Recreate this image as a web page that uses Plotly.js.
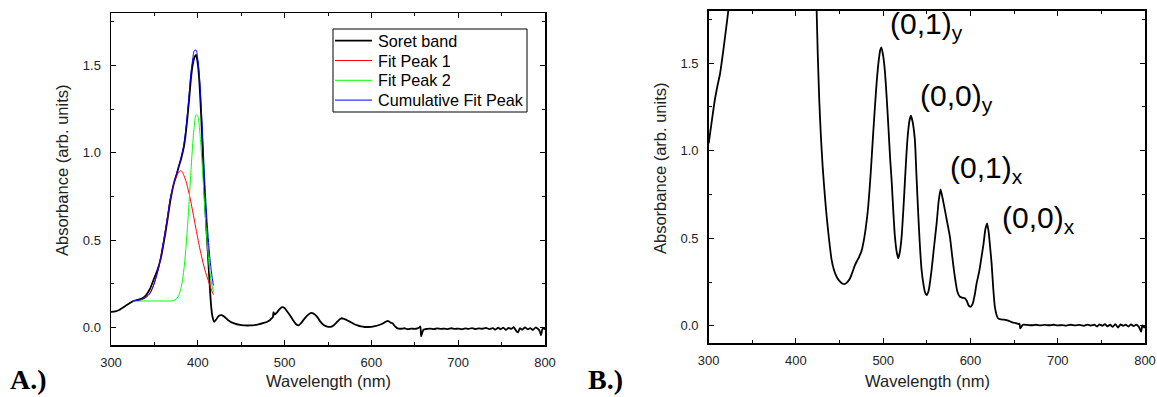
<!DOCTYPE html>
<html>
<head>
<meta charset="utf-8">
<script src="https://cdn.plot.ly/plotly-3.0.1.min.js"></script>
<style>
  html, body { margin: 0; padding: 0; background: #fff; }
  #chart { width: 1157px; height: 397px; }
</style>
</head>
<body>
<div id="chart"></div>
<script>
// ---------- Panel A: Soret band spectrum ----------
const soretWl = [300,305,310,315,320,325,330,335,340,345,350,353,355,358,360,363,365,368,370,373,375,378,380,382,384,386,388,390,392,394,396,398,400,402,404,406,408,410,412,414,415.5,417,419,421,424,427.5,431,435,441,450,460,470,476,480,483,485,486.5,487.2,488.5,491,494,497,500,503,506.5,510,513,516,519,522,526,530,532,535,538,541,545,549,553,557,561,564,566,569,572,576,580,584,588,592,596,600,604,608,612,615,618,620,622,624,626,628,630,634,638,642,646,650,653,655,656.5,657.2,658,660,664,668,672,676,680,684,688,692,696,700,704,708,712,716,720,724,728,732,736,740,743,746,749,752,755,758,761,764,767,769,771,774,777,780,783,786,789,792,794,795.5,797,799,800];
const soretAbs = [0.089,0.092,0.102,0.118,0.135,0.150,0.158,0.165,0.183,0.222,0.285,0.322,0.352,0.41,0.465,0.55,0.615,0.715,0.77,0.835,0.865,0.92,0.952,0.99,1.035,1.105,1.2,1.305,1.42,1.5,1.545,1.56,1.51,1.39,1.2,0.96,0.74,0.56,0.39,0.22,0.115,0.06,0.033,0.045,0.066,0.071,0.06,0.042,0.025,0.014,0.012,0.018,0.026,0.033,0.042,0.052,0.06,0.088,0.074,0.085,0.104,0.117,0.112,0.092,0.068,0.04,0.02,0.012,0.025,0.045,0.068,0.082,0.083,0.074,0.058,0.035,0.014,0.005,0.004,0.015,0.035,0.049,0.053,0.048,0.042,0.031,0.02,0.012,0.006,0.003,0.003,0.004,0.008,0.013,0.02,0.029,0.037,0.036,0.028,0.026,0.014,0.003,-0.005,-0.007,-0.004,-0.01,-0.006,-0.008,-0.005,0.0,0.006,-0.05,-0.04,-0.012,-0.008,-0.006,-0.009,-0.005,-0.008,-0.006,-0.009,-0.004,-0.008,-0.006,-0.01,-0.005,-0.008,-0.003,-0.009,-0.005,-0.007,-0.002,-0.009,-0.004,-0.012,-0.001,-0.01,0.0,-0.014,-0.002,-0.008,0.002,-0.02,-0.028,-0.004,-0.012,0.001,-0.01,-0.003,-0.014,0.0,-0.008,-0.022,-0.044,-0.01,-0.004,-0.012];

const fitWl = [325,330,335,340,345,350,355,360,365,368,370,372,374,376,378,380,382,384,386,388,390,392,394,396,398,400,402,404,406,408,410,412,414,416,418];
const fitPeak1 = [0.152,0.155,0.16,0.172,0.197,0.255,0.345,0.48,0.63,0.73,0.775,0.815,0.848,0.872,0.889,0.897,0.892,0.87,0.843,0.807,0.766,0.719,0.668,0.615,0.562,0.51,0.46,0.414,0.371,0.333,0.299,0.27,0.24,0.212,0.188];
const fitPeak2 = [0.152,0.152,0.152,0.152,0.152,0.152,0.152,0.152,0.152,0.152,0.152,0.155,0.159,0.168,0.184,0.213,0.26,0.332,0.435,0.567,0.722,0.887,1.039,1.156,1.216,1.209,1.136,1.011,0.854,0.69,0.538,0.411,0.316,0.249,0.205];
const fitCumulative = [0.152,0.155,0.16,0.172,0.197,0.255,0.345,0.48,0.63,0.73,0.775,0.818,0.855,0.888,0.921,0.958,1.0,1.05,1.126,1.222,1.336,1.454,1.53,1.585,1.588,1.535,1.43,1.26,1.05,0.84,0.66,0.515,0.395,0.305,0.241];

const seriesNames = ['Soret band', 'Fit Peak 1', 'Fit Peak 2', 'Cumulative Fit Peak'];

// ---------- Panel B: Q-band region ----------
const qWl = [300,303,307,310,313,316.8,320,322.5,325,423,423.7,425,426.7,428.5,430.6,433,435.2,438,440.9,443.5,446.6,450,453,455.4,458,461.9,465,467.5,469.5,472,475,477.1,480,482.8,485.5,488.5,490.5,492.4,494.5,496.6,498,500,502,503.9,506,508,509.6,511.5,513.4,515.5,517.2,519,521.1,523.5,526,528,530,531.7,533.5,536.3,538,540.1,542,544,546,548,549.7,552,555.4,558,561.2,563.5,565.7,568,570.7,573,576.4,579,582.1,585,587.9,591,593.6,596,598,600.1,602.5,605,607,610,612.7,615,617,619.1,621,622.5,624.2,626,627.9,630,631.7,635,638,641.3,645,648,652.8,655,656.2,657,658,660,665,670,675,680,685,690,695,700,705,710,715,720,725,730,734,738,742,745,748,751,754,757,760,763,766,769,772,775,778,781,784,787,790,793,795.5,797,799,800];
const qAbs = [1.042,1.15,1.29,1.37,1.44,1.575,1.7,1.8,1.9,1.9,1.8,1.55,1.29,1.09,0.909,0.75,0.623,0.49,0.375,0.32,0.28,0.255,0.242,0.238,0.245,0.27,0.31,0.345,0.366,0.39,0.425,0.47,0.56,0.68,0.86,1.10,1.25,1.385,1.5,1.575,1.59,1.54,1.45,1.31,1.13,0.95,0.833,0.66,0.509,0.42,0.385,0.42,0.509,0.7,0.928,1.08,1.17,1.2,1.17,1.061,0.87,0.642,0.46,0.318,0.24,0.19,0.175,0.2,0.318,0.44,0.585,0.71,0.779,0.73,0.661,0.6,0.509,0.4,0.28,0.195,0.166,0.16,0.157,0.14,0.115,0.109,0.125,0.18,0.242,0.31,0.394,0.47,0.55,0.585,0.53,0.45,0.357,0.22,0.109,0.06,0.042,0.036,0.035,0.033,0.026,0.02,0.014,0.01,0.012,-0.015,-0.008,0.006,0.005,0.003,0.006,0.002,0.005,0.003,0.006,0.002,0.004,0.001,0.006,0.002,0.005,0.0,0.007,0.001,0.006,-0.004,0.008,0.0,0.009,-0.003,0.006,-0.006,0.01,-0.01,0.008,0.0,0.006,-0.004,0.008,-0.002,0.007,-0.006,-0.034,0.002,-0.01,0.004];

const bandLabels = ['(0,1)<sub>y</sub>','(0,0)<sub>y</sub>','(0,1)<sub>x</sub>','(0,0)<sub>x</sub>'];
const bandLabelWl = [505,539.5,574,633.5];
const bandLabelAbs = [1.715,1.305,0.895,0.61];

const xTickVals = [300,400,500,600,700,800];
const yTickVals = [0.0,0.5,1.0,1.5];
const yTickText = ['0.0','0.5','1.0','1.5'];

// ---------- Layout helpers ----------
const W = 1157, H = 397;
function xdom(l, r) { return [l / W, r / W]; }
function ydom(t, b) { return [1 - b / H, 1 - t / H]; }

const tickFont = {family: 'Liberation Sans, Arial, sans-serif', size: 13, color: '#222'};
function xAxis(domain, anchor) {
  return {
    domain: domain, anchor: anchor, range: [300, 800],
    tickvals: xTickVals, ticks: 'inside', ticklen: 5, tickwidth: 1, tickcolor: '#000',
    minor: {dtick: 50, tick0: 300, ticks: 'inside', ticklen: 3, tickwidth: 1, tickcolor: '#000'},
    showline: true, linecolor: '#000', linewidth: 1.5, mirror: 'ticks',
    showgrid: false, zeroline: false, tickfont: tickFont, ticklabelstandoff: 5, fixedrange: true
  };
}
function yAxis(domain, anchor) {
  return {
    domain: domain, anchor: anchor, range: [-0.1, 1.8],
    tickvals: yTickVals, ticktext: yTickText, ticks: 'inside', ticklen: 5, tickwidth: 1, tickcolor: '#000',
    minor: {dtick: 0.25, tick0: 0, ticks: 'inside', ticklen: 3, tickwidth: 1, tickcolor: '#000'},
    showline: true, linecolor: '#000', linewidth: 1.5, mirror: 'ticks',
    showgrid: false, zeroline: false, tickfont: tickFont, ticklabelstandoff: 6, fixedrange: true
  };
}

const seriesStyles = [
  {color: '#000', width: 1.8},
  {color: '#ff0000', width: 1},
  {color: '#00ff00', width: 1},
  {color: '#0000ff', width: 1}
];
const seriesY = [soretAbs, fitPeak1, fitPeak2, fitCumulative];
const seriesX = [soretWl, fitWl, fitWl, fitWl];

const traces = [];
for (let i = 0; i < seriesNames.length; i++) {
  traces.push({
    x: seriesX[i], y: seriesY[i], name: seriesNames[i], mode: 'lines', showlegend: false,
    line: {color: seriesStyles[i].color, width: seriesStyles[i].width, shape: 'spline', smoothing: i === 0 ? 0.5 : 0.8},
    xaxis: 'x', yaxis: 'y'
  });
}
traces.push({x: qWl, y: qAbs, name: 'Q bands', showlegend: false, mode: 'lines',
  line: {color: '#000', width: 1.8, shape: 'spline', smoothing: 0.5}, xaxis: 'x2', yaxis: 'y2'});

const titleFont = {family: 'Liberation Sans, Arial, sans-serif', size: 16.5, color: '#222'};
const annotations = [
  {text: 'Wavelength (nm)', xref: 'paper', yref: 'paper', x: 328 / W, y: 1 - 381 / H, xanchor: 'center', yanchor: 'middle', showarrow: false, font: titleFont},
  {text: 'Wavelength (nm)', xref: 'paper', yref: 'paper', x: 927 / W, y: 1 - 381 / H, xanchor: 'center', yanchor: 'middle', showarrow: false, font: titleFont},
  {text: 'Absorbance (arb. units)', xref: 'paper', yref: 'paper', x: 62 / W, y: 1 - 170 / H, xanchor: 'center', yanchor: 'middle', textangle: -90, showarrow: false, font: titleFont},
  {text: 'Absorbance (arb. units)', xref: 'paper', yref: 'paper', x: 660 / W, y: 1 - 168 / H, xanchor: 'center', yanchor: 'middle', textangle: -90, showarrow: false, font: titleFont},
  {text: '<b>A.)</b>', xref: 'paper', yref: 'paper', x: 8 / W, y: 1 - 379 / H, xanchor: 'left', yanchor: 'middle', showarrow: false, font: {family: 'Liberation Serif, Times New Roman, serif', size: 28, color: '#000'}},
  {text: '<b>B.)</b>', xref: 'paper', yref: 'paper', x: 586 / W, y: 1 - 379 / H, xanchor: 'left', yanchor: 'middle', showarrow: false, font: {family: 'Liberation Serif, Times New Roman, serif', size: 28, color: '#000'}}
];
for (let i = 0; i < bandLabels.length; i++) {
  annotations.push({
    text: bandLabels[i], xref: 'x2', yref: 'y2', x: bandLabelWl[i], y: bandLabelAbs[i],
    xanchor: 'left', yanchor: 'middle', showarrow: false,
    font: {family: 'Liberation Sans, Arial, sans-serif', size: 30, color: '#000'}
  });
}

// Legend (panel A): frame, line samples and names
const shapes = [
  {type: 'rect', xref: 'paper', yref: 'paper', x0: 333 / W, x1: 527 / W, y0: 1 - 112 / H, y1: 1 - 29 / H,
   line: {color: '#000', width: 1}, fillcolor: '#fff', layer: 'above'}
];
const legendTop = 40.7, legendStep = 19.8;
for (let i = 0; i < seriesNames.length; i++) {
  const py = legendTop + i * legendStep;
  shapes.push({type: 'line', xref: 'paper', yref: 'paper', x0: 335 / W, x1: 372 / W, y0: 1 - py / H, y1: 1 - py / H,
    line: {color: seriesStyles[i].color, width: seriesStyles[i].width}, layer: 'above'});
  annotations.push({text: seriesNames[i], xref: 'paper', yref: 'paper', x: 376 / W, y: 1 - py / H,
    xanchor: 'left', yanchor: 'middle', showarrow: false,
    font: {family: 'Liberation Sans, Arial, sans-serif', size: 16.2, color: '#000'}});
}

const layout = {
  width: W, height: H,
  margin: {l: 0, r: 0, t: 0, b: 0},
  paper_bgcolor: '#fff', plot_bgcolor: '#fff',
  font: {family: 'Liberation Sans, Arial, sans-serif', color: '#000'},
  xaxis: xAxis(xdom(111, 545), 'y'),
  yaxis: yAxis(ydom(13, 345), 'x'),
  xaxis2: xAxis(xdom(708.7, 1145), 'y2'),
  yaxis2: yAxis(ydom(10.7, 343.3), 'x2'),
  showlegend: false,
  shapes: shapes,
  annotations: annotations
};

Plotly.newPlot('chart', traces, layout, {displayModeBar: false, staticPlot: true});
</script>
</body>
</html>
